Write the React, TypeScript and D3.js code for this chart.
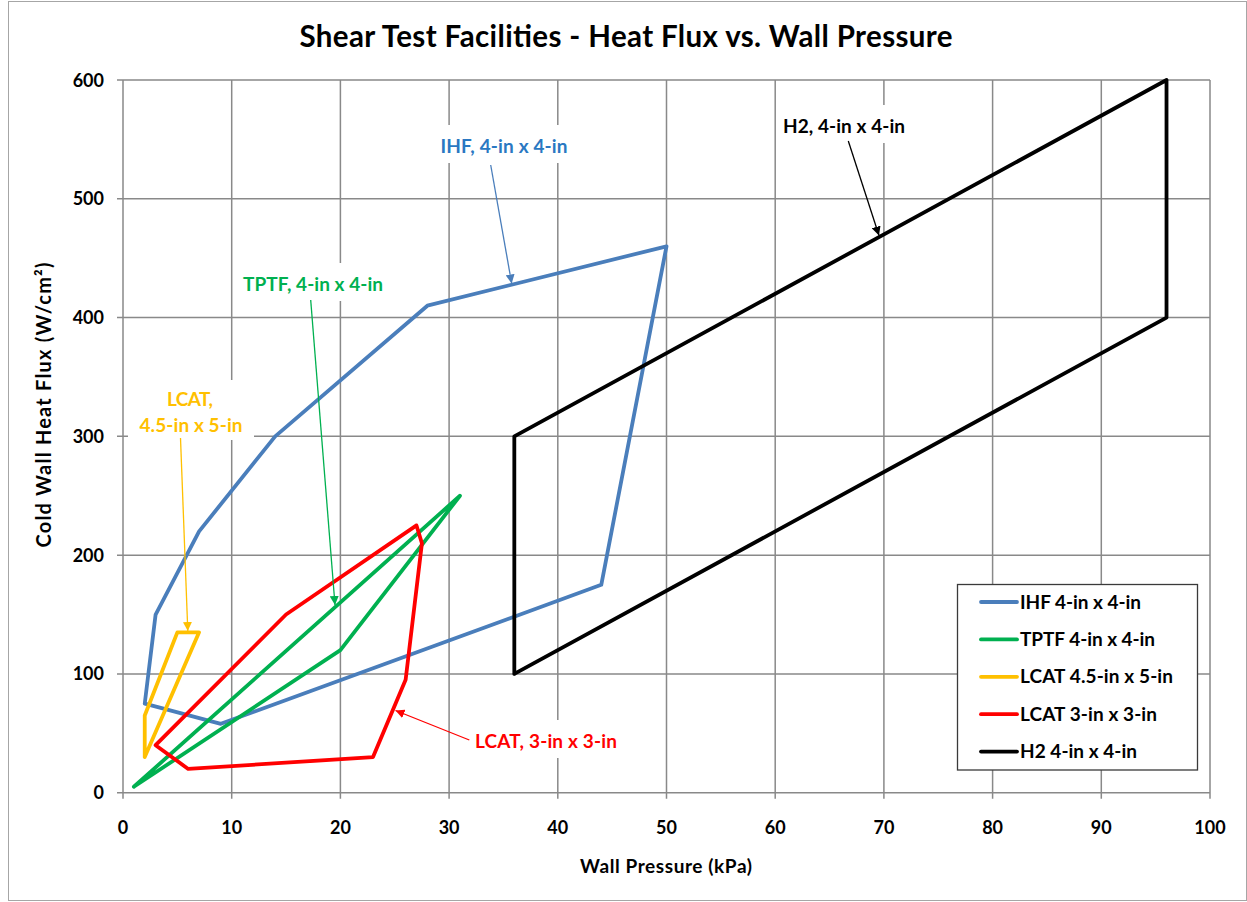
import React from "react";
import * as d3 from "d3";

const W = 1247;
const H = 902;

const xTicks = [0, 10, 20, 30, 40, 50, 60, 70, 80, 90, 100];
const yTicks = [0, 100, 200, 300, 400, 500, 600];

const ihfX = [2, 9, 44, 50, 28, 14, 7, 3, 2];
const ihfY = [75, 58, 175, 460, 410, 300, 220, 150, 75];
const tptfX = [1, 20, 31, 1];
const tptfY = [5, 120, 250, 5];
const lcat45X = [2, 2, 5, 7, 2];
const lcat45Y = [30, 65, 135, 135, 30];
const lcat3X = [3, 6, 23, 26, 27.5, 27, 15, 3];
const lcat3Y = [40, 20, 30, 95, 210, 225, 150, 40];
const h2X = [36, 36, 96, 96, 36];
const h2Y = [100, 300, 600, 400, 100];

const seriesNames = ["IHF 4-in x 4-in", "TPTF 4-in x 4-in", "LCAT 4.5-in x 5-in", "LCAT 3-in x 3-in", "H2 4-in x 4-in"];
const seriesColors = ["#4a7ebb", "#00b050", "#ffc000", "#ff0000", "#000000"];
const seriesXs = [ihfX, tptfX, lcat45X, lcat3X, h2X];
const seriesYs = [ihfY, tptfY, lcat45Y, lcat3Y, h2Y];
const legendWidths = [121, 135, 153, 137, 117];

const FONT = "Lato, 'Open Sans', sans-serif";

export default function App() {
  const x = d3.scaleLinear().domain([0, 100]).range([123, 1210]);
  const y = d3.scaleLinear().domain([0, 600]).range([792.7, 80]);
  const line = d3.line<[number, number]>().x((d) => x(d[0])).y((d) => y(d[1]));
  const grid = "#898989";

  const arrow = (id: string, color: string) => (
    <marker id={id} viewBox="0 0 10 10" refX="10" refY="5" markerWidth="9" markerHeight="9" markerUnits="userSpaceOnUse" orient="auto">
      <path d="M0,0 L10,5 L0,10 z" fill={color} />
    </marker>
  );

  const labels = [
    { lines: ["IHF, 4-in x 4-in"], xs: [504], ys: [153], w: [127], box: [434, 125, 141, 38], color: "#2a78c2", lc: "#4a7ebb", a: [490.7, 165, 511.7, 283.5], m: "mb" },
    { lines: ["H2, 4-in x 4-in"], xs: [844], ys: [133], w: [122], box: [776, 105, 136, 38], color: "#000000", lc: "#000", a: [848.3, 141, 879, 235.5], m: "mk" },
    { lines: ["TPTF, 4-in x 4-in"], xs: [313], ys: [291], w: [140], box: [236, 263, 154, 38], color: "#00b050", lc: "#00b050", a: [310.7, 300, 335, 605], m: "mg" },
    { lines: ["LCAT,", "4.5-in x 5-in"], xs: [190, 191], ys: [406, 432], w: [46, 103], box: [128, 380, 126, 60], color: "#ffc000", lc: "#ffc000", a: [180.5, 438, 187.8, 631], m: "my" },
    { lines: ["LCAT, 3-in x 3-in"], xs: [546], ys: [748], w: [142], box: [468, 720, 156, 38], color: "#ff0000", lc: "#ff0000", a: [469.3, 740, 395.5, 710.5], m: "mr" },
  ];

  return (
    <div style={{ position: "absolute", left: 0, top: 0 }}>
      <svg width={W} height={H} style={{ display: "block", background: "#fff" }}>
        <defs>
          {arrow("mb", "#4a7ebb")}
          {arrow("mk", "#000")}
          {arrow("mg", "#00b050")}
          {arrow("my", "#ffc000")}
          {arrow("mr", "#ff0000")}
        </defs>
        <rect x={8.5} y={1.5} width={1238} height={899} fill="#fff" stroke="#a6a6a6" strokeWidth={1} />
        <text x={626} y={47} textAnchor="middle" fontFamily={FONT} fontWeight="bold" fontSize={29.5} fill="#000" textLength={653} lengthAdjust="spacing">
          Shear Test Facilities - Heat Flux vs. Wall Pressure
        </text>
        {/* gridlines */}
        {xTicks.map((t) => (
          <line key={"gx" + t} x1={x(t)} x2={x(t)} y1={y(600)} y2={y(0) + 6} stroke={grid} strokeWidth={1.5} />
        ))}
        {yTicks.map((t) => (
          <line key={"gy" + t} x1={x(0) - 6} x2={x(100)} y1={y(t)} y2={y(t)} stroke={grid} strokeWidth={1.5} />
        ))}
        {/* tick labels */}
        {xTicks.map((t) => (
          <text key={"tx" + t} x={x(t)} y={834} textAnchor="middle" fontFamily={FONT} fontWeight="bold" fontSize={18} fill="#000">
            {t}
          </text>
        ))}
        {yTicks.map((t) => (
          <text key={"ty" + t} x={104} y={y(t) + 6.5} textAnchor="end" fontFamily={FONT} fontWeight="bold" fontSize={18} fill="#000">
            {t}
          </text>
        ))}
        <text x={666} y={873} textAnchor="middle" fontFamily={FONT} fontWeight="bold" fontSize={19} fill="#000" textLength={172} lengthAdjust="spacing">
          Wall Pressure (kPa)
        </text>
        <text transform={`translate(51,405) rotate(-90)`} textAnchor="middle" fontFamily={FONT} fontWeight="bold" fontSize={20} fill="#000" textLength={285} lengthAdjust="spacing">
          Cold Wall Heat Flux (W/cm²)
        </text>
        {/* series */}
        {seriesXs.map((xs, i) => {
          const pts: [number, number][] = xs.map((v, j) => [v, seriesYs[i][j]]);
          return (
            <path key={"s" + i} d={line(pts) || ""} fill="none" stroke={seriesColors[i]} strokeWidth={3.8} strokeLinejoin="round" strokeLinecap="round" />
          );
        })}
        {/* annotations */}
        {labels.map((l, i) => (
          <g key={"l" + i}>
            <rect x={l.box[0]} y={l.box[1]} width={l.box[2]} height={l.box[3]} fill="#fff" />
            <line x1={l.a[0]} y1={l.a[1]} x2={l.a[2]} y2={l.a[3]} stroke={l.lc} strokeWidth={1.3} markerEnd={`url(#${l.m})`} />
            {l.lines.map((s, k) => (
              <text key={k} x={l.xs[k]} y={l.ys[k]} textAnchor="middle" fontFamily={FONT} fontWeight="bold" fontSize={19} fill={l.color} textLength={l.w[k]} lengthAdjust="spacing">
                {s}
              </text>
            ))}
          </g>
        ))}
        {/* legend */}
        <rect x={957.5} y={584.5} width={240} height={185.5} fill="#fff" stroke="#3a3a3a" strokeWidth={1.3} />
        {seriesNames.map((n, i) => (
          <g key={"lg" + i}>
            <line x1={981} x2={1017} y1={602 + i * 37.4} y2={602 + i * 37.4} stroke={seriesColors[i]} strokeWidth={3.8} strokeLinecap="round" />
            <text x={1020} y={602 + i * 37.4 + 6.5} fontFamily={FONT} fontWeight="bold" fontSize={19} fill="#000" textLength={legendWidths[i]} lengthAdjust="spacing">
              {n}
            </text>
          </g>
        ))}
      </svg>
    </div>
  );
}
